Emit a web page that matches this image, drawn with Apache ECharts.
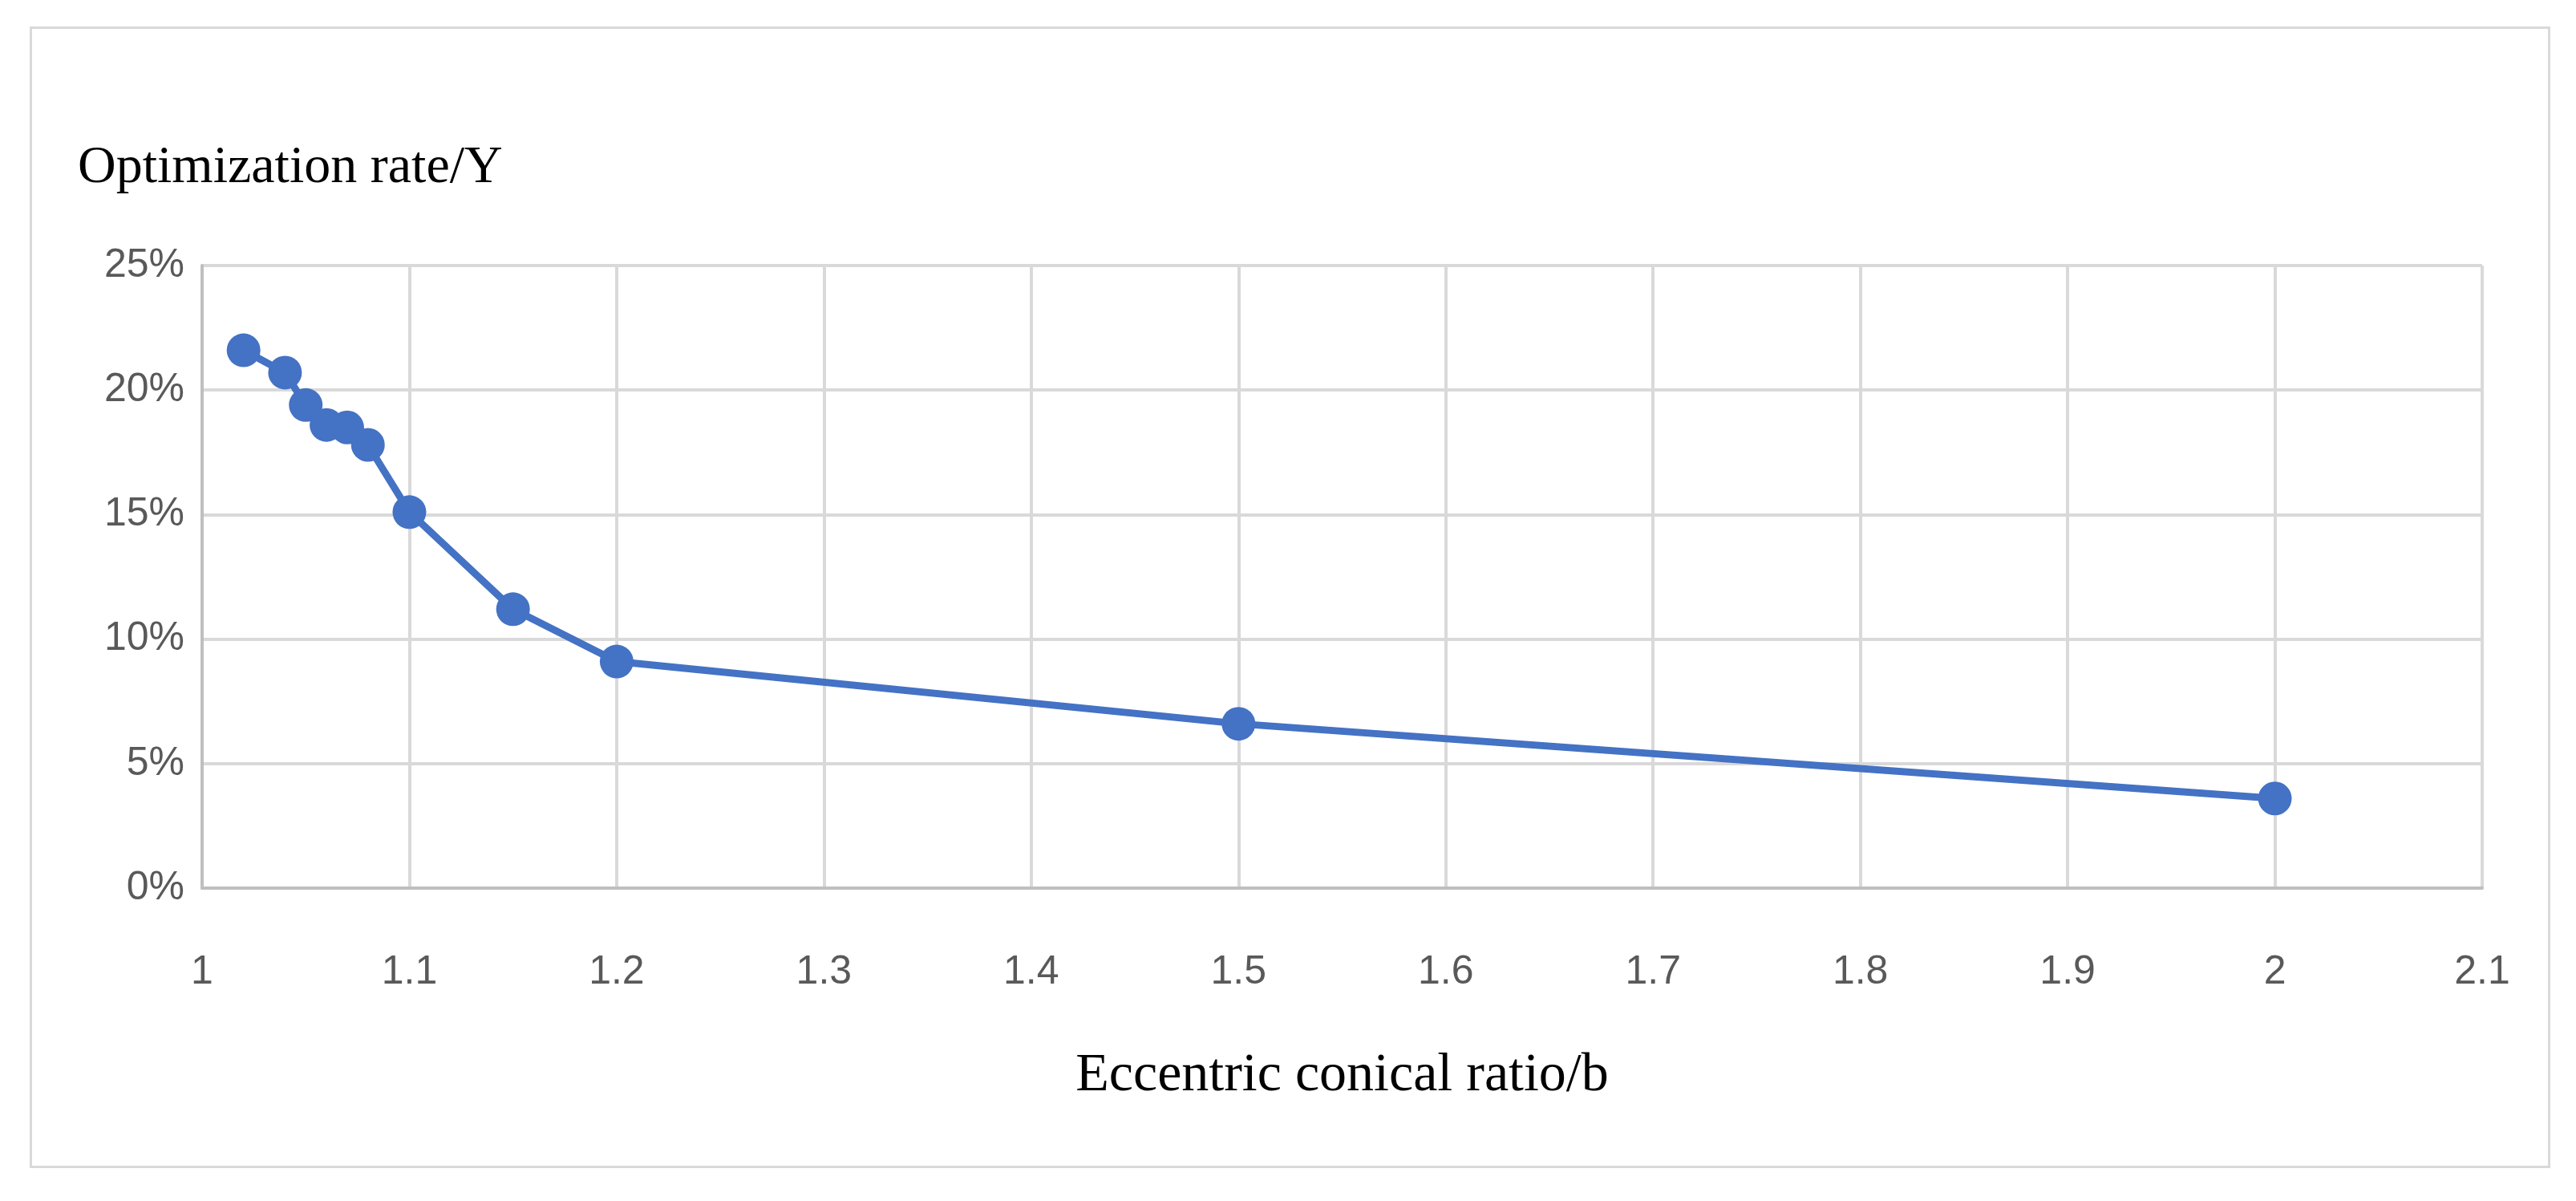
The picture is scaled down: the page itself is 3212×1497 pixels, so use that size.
<!DOCTYPE html>
<html>
<head>
<meta charset="utf-8">
<script src="https://cdn.jsdelivr.net/npm/echarts@6/dist/echarts.min.js"></script>
<style>
html, body { margin: 0; padding: 0; background: #fff; }
#frame { position: absolute; left: 37px; top: 33px; width: 3143px; height: 1423px; border: 3px solid #d9d9d9; box-sizing: border-box; }
#chart { position: absolute; left: 0; top: 0; width: 3212px; height: 1497px; }
</style>
</head>
<body>
<div id="frame"></div>
<div id="chart"></div>
<script>
var ratioB = [1.02, 1.04, 1.05, 1.06, 1.07, 1.08, 1.1, 1.15, 1.2, 1.5, 2.0];
var rateY = [21.6, 20.7, 19.4, 18.6, 18.5, 17.8, 15.1, 11.2, 9.1, 6.6, 3.6];
var xTitle = 'Eccentric conical ratio/b';
var yTitle = 'Optimization rate/Y';

var myChart = echarts.init(document.getElementById('chart'));
var points = ratioB.map(function (b, i) { return [b, rateY[i]]; });

myChart.setOption({
    animation: false,
    title: {
        text: yTitle,
        left: 92,
        top: 172,
        textStyle: { fontFamily: 'Liberation Serif', fontWeight: 'normal', fontSize: 66, color: '#000' }
    },
    grid: { left: 252, right: 117, top: 331, bottom: 390 },
    xAxis: {
        type: 'value',
        min: 1, max: 2.1, interval: 0.1,
        name: xTitle,
        nameLocation: 'middle',
        nameGap: 200,
        nameTextStyle: { fontFamily: 'Liberation Serif', fontSize: 68, color: '#000' },
        axisLine: { lineStyle: { color: '#bfbfbf', width: 4 } },
        axisTick: { show: false },
        splitLine: { show: true, lineStyle: { color: '#d9d9d9', width: 4 } },
        axisLabel: {
            margin: 80, fontSize: 50, color: '#595959', fontFamily: 'Liberation Sans',
            formatter: function (v) { return String(Math.round(v * 10) / 10); }
        }
    },
    yAxis: {
        type: 'value',
        min: 0, max: 25, interval: 5,
        axisLine: { show: true, lineStyle: { color: '#bfbfbf', width: 4 } },
        axisTick: { show: false },
        splitLine: { show: true, lineStyle: { color: '#d9d9d9', width: 4 } },
        axisLabel: { margin: 22, fontSize: 50, color: '#595959', fontFamily: 'Liberation Sans', formatter: '{value}%' }
    },
    series: [{
        type: 'line',
        data: points,
        symbol: 'circle',
        symbolSize: 42,
        itemStyle: { color: '#4472c4' },
        lineStyle: { color: '#4472c4', width: 9 }
    }]
});
</script>
</body>
</html>
